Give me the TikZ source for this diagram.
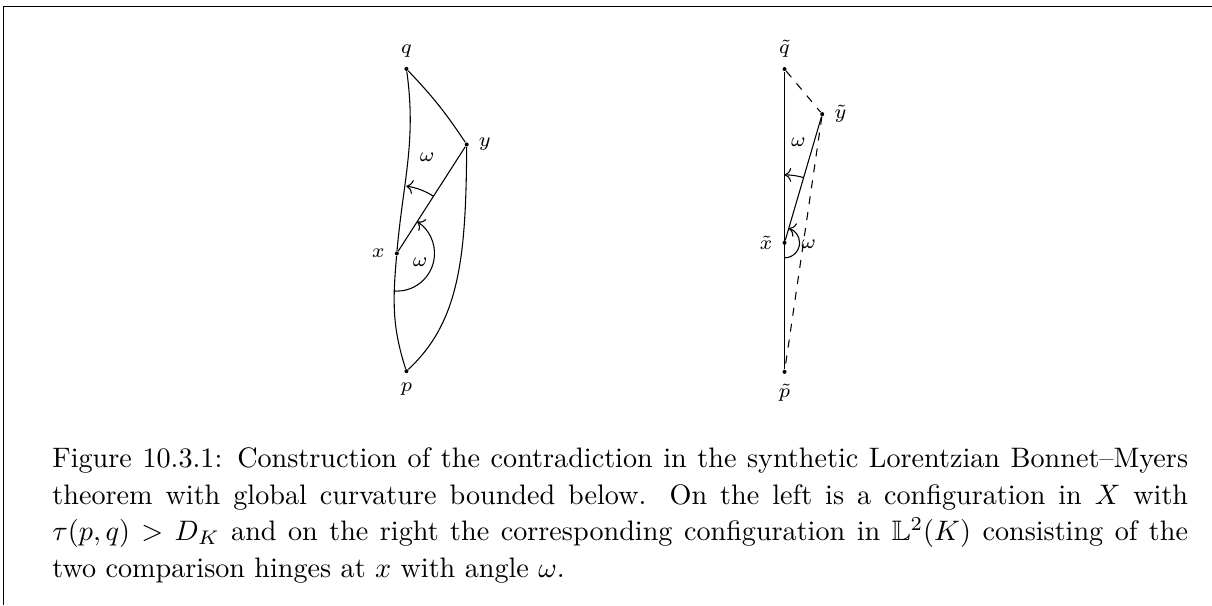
\RequirePackage{fix-cm}
\documentclass[tikz,border=0pt]{standalone}
\usepackage{amsmath,amssymb}
\usepackage{tikz}
\usetikzlibrary{positioning,arrows.meta}

\begin{document}
\begin{tikzpicture}[every node/.style={font=\fontsize{7.4}{13.3}\selectfont},
    pt/.style={circle,fill,inner sep=0pt,minimum size=1.5pt},
    ang/.style={->}]
  \useasboundingbox (0,0) rectangle (15.88,7.93);
  % frame of the figure box (cut at right and bottom)
  \coordinate (fr) at (15.88,7.84);
  \coordinate (fc) at (0.05,7.84);
  \coordinate (fb) at (0.05,0);
  \draw (fr) -- (fc) -- (fb);

  % left: configuration in X
  \begin{scope}[shift={(5.325,3.067)}]
    \def\R{0.89}  % radius of the outer angle arc
    \def\r{0.494} % radius of the inner angle arc
    \node[pt,label=below:$p$] (p) at (0,0) {};
    \node[pt,label=above:$q$] (q) at (0,3.96) {};
    \node[pt,label=left:$x$]  (x) at (-0.126,1.543) {};
    \node[pt,label=right:$y$] (y) at (0.79,2.97) {};
    \draw (q) to[out=-82,in=85] (x) to[out=-95,in=108] (p);
    \draw (q) to[bend left=5] (y);
    \draw (y) .. controls (0.78,1.5) and (0.7,0.65) .. (p);
    \draw (x) -- (y);
    \draw[ang] (x.center) ++(57.3:\R) arc[start angle=57.3,end angle=82,radius=\R];
    \draw[ang] (x.center) ++(-95:\r) arc[start angle=-95,end angle=57.3,radius=\r];
    \node (w1) at (0.271,2.805) {$\omega$};
    \node (w2) at (0.18,1.429) {$\omega$};
  \end{scope}

  % right: comparison hinges in L^2(K)
  \begin{scope}[shift={(10.279,3.058)}]
    \def\R{0.89}
    \def\r{0.197}
    \node[pt,label=below:$\tilde p$] (tp) at (0,0) {};
    \node[pt,label=above:$\tilde q$] (tq) at (0,3.967) {};
    \node[pt,label=left:$\tilde x$]  (tx) at (0,1.691) {};
    \node[pt,label=right:$\tilde y$] (ty) at (0.494,3.377) {};
    \draw (tq) -- (tp);
    \draw[dashed] (tq) -- (ty) -- (tp);
    \draw (tx) -- (ty);
    \draw[ang] (tx.center) ++(73.7:\R) arc[start angle=73.7,end angle=90,radius=\R];
    \draw[ang] (tx.center) ++(-90:\r) arc[start angle=-90,end angle=73.7,radius=\r];
    \node (tw1) at (0.18,3.014) {$\omega$};
    \node (tw2) at (0.315,1.67) {$\omega$};
  \end{scope}

  % caption
  \node[anchor=north west,inner sep=0pt,text width=14.88cm,align=justify,
        font=\fontsize{10.5}{13.6}\selectfont] (cap) at (0.68,2.07)
    {Figure 10.3.1: Construction of the contradiction in the synthetic Lorentzian Bonnet--Myers
     theorem with global curvature bounded below. On the left is a configuration in $X$ with
     $\tau(p,q) > D_K$ and on the right the corresponding configuration in $\mathbb{L}^2(K)$
     consisting of the two comparison hinges at $x$ with angle $\omega$.};
\end{tikzpicture}
\end{document}
